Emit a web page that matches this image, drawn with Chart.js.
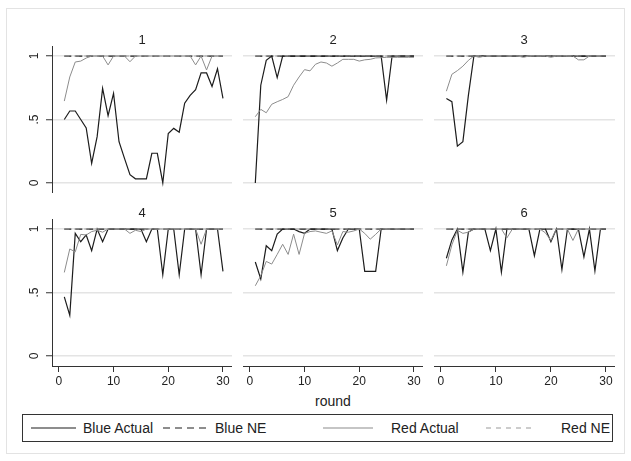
<!DOCTYPE html>
<html>
<head>
<meta charset="utf-8">
<script src="https://cdn.jsdelivr.net/npm/chart.js@4.4.1/dist/chart.umd.min.js"></script>
<style>
  html, body { margin: 0; padding: 0; background: #fff; }
  #wrap { position: relative; width: 631px; height: 461px; overflow: hidden;
          font-family: "Liberation Sans", Arial, Helvetica, sans-serif; color: #222; }
  #frame { position: absolute; left: 6px; top: 8px; width: 619px; height: 446px;
           border: 1px solid #e3e3e3; box-sizing: border-box; }
  canvas { position: absolute; }
  .ttl { position: absolute; width: 180px; text-align: center; font-size: 13px; line-height: 16px; }
  #xtitle { position: absolute; left: 52px; width: 562px; top: 392px; text-align: center;
            font-size: 14px; line-height: 18px; }
  #legend { position: absolute; left: 22px; top: 414px; width: 591px; height: 28px;
            border: 1px solid #333; box-sizing: border-box; }
  .lab { position: absolute; top: 5px; font-size: 14px; line-height: 16px; white-space: nowrap; }
</style>
</head>
<body>
<div id="wrap">
  <div id="frame"></div>
  <div id="xtitle">round</div>
  <div id="legend"></div>
</div>
<script>
// Rounds on the horizontal axis
const rounds = [1,2,3,4,5,6,7,8,9,10,11,12,13,14,15,16,17,18,19,20,21,22,23,24,25,26,27,28,29,30];

// Panel labels and axis ticks
const panelTitles = ['1','2','3','4','5','6'];
const xTicks = [0, 10, 20, 30];
const yTicks = [0, 0.5, 1];

// Equilibrium prediction (same for both players in every panel)
const blueNE = [1,1,1,1,1,1,1,1,1,1,1,1,1,1,1,1,1,1,1,1,1,1,1,1,1,1,1,1,1,1];
const redNE  = [1,1,1,1,1,1,1,1,1,1,1,1,1,1,1,1,1,1,1,1,1,1,1,1,1,1,1,1,1,1];

// Blue player, observed share by round
const blue1 = [0.50,0.567,0.567,0.50,0.433,0.155,0.365,0.745,0.53,0.706,0.325,0.194,0.065,0.033,0.033,0.033,0.234,0.234,0,0.39,0.43,0.40,0.628,0.69,0.735,0.867,0.867,0.76,0.90,0.666];
const blue2 = [0,0.77,0.966,1,0.83,1,1,1,1,1,1,1,1,1,1,1,1,1,1,1,1,1,1,1,0.653,1,1,1,1,1];
const blue3 = [0.666,0.64,0.29,0.326,0.69,1,1,1,1,1,1,1,1,1,1,1,1,1,1,1,1,1,1,1,1,1,1,1,1,1];
const blue4 = [0.465,0.32,0.966,0.90,0.953,0.83,1,0.90,1,1,1,1,1,1,1,0.90,1,1,0.64,1,1,0.64,1,1,1,0.64,1,1,1,0.666];
const blue5 = [0.74,0.606,0.868,0.83,0.96,1,1,1,0.98,0.966,1,1,1,1,1,0.83,0.93,1,1,1,0.667,0.667,0.667,1,1,1,1,1,1,1];
const blue6 = [0.77,0.914,1,0.66,0.976,1,1,1,0.83,1,0.66,1,1,1,1,1,0.79,1,1,0.90,1,0.68,1,1,1,0.78,1,0.67,1,1];

// Red player, observed share by round
const red1 = [0.645,0.835,0.953,0.96,0.984,1,1,1,0.93,1,1,1,0.955,1,1,1,1,1,1,1,1,1,1,1,0.93,1,0.89,1,1,1];
const red2 = [0.522,0.58,0.553,0.62,0.64,0.658,0.68,0.77,0.835,0.893,0.883,0.935,0.953,0.945,0.92,0.945,0.974,0.974,0.974,0.96,0.97,0.974,0.985,0.987,0.99,0.99,0.99,0.99,0.99,0.99];
const red3 = [0.723,0.856,0.885,0.92,0.966,1,0.99,1,1,1,1,1,1,1,0.99,1,1,1,1,0.99,1,1,1,1,0.97,0.97,1,1,1,1];
const red4 = [0.658,0.843,0.82,0.958,0.953,0.98,0.99,0.975,1,1,1,1,0.966,0.99,0.98,1,1,1,1,1,1,1,1,1,1,0.88,1,1,1,1];
const red5 = [0.553,0.632,0.745,0.724,0.80,0.88,0.80,0.96,0.80,0.966,0.98,0.985,0.975,0.966,0.985,0.875,0.98,0.975,0.985,1,0.966,0.92,0.958,1,1,1,1,1,1,1];
const red6 = [0.71,0.875,0.99,0.966,0.975,1,1,1,1,1,1,0.93,1,1,1,1,1,1,0.97,0.91,1,1,1,0.91,1,1,1,1,1,1];

const blueSeries = [blue1, blue2, blue3, blue4, blue5, blue6];
const redSeries  = [red1, red2, red3, red4, red5, red6];

// Legend entries
const legendLabels = ['Blue Actual', 'Blue NE', 'Red Actual', 'Red NE'];

const FONT = '"Liberation Sans", Arial, Helvetica, sans-serif';
const INK = '#1c1c1c';
const GREY = '#8c8c8c';
const COL_LEFT = [52, 243, 434];
const ROW_TOP = [46, 219];
const PW = 180, PH = 147, YAXW = 32, XAXH = 26;

const wrap = document.getElementById('wrap');
const toPoints = vals => rounds.map((x, k) => ({ x: x, y: vals[k] }));

function makePanel(i) {
  const c = i % 3, r = Math.floor(i / 3);
  const left = COL_LEFT[c] - (c === 0 ? YAXW : 0);
  const w = PW + (c === 0 ? YAXW : 0) + (c === 2 ? 1 : 0);
  const h = PH + (r === 1 ? XAXH : 0);
  const cv = document.createElement('canvas');
  cv.width = w; cv.height = h;
  cv.style.left = left + 'px'; cv.style.top = ROW_TOP[r] + 'px';
  cv.style.width = w + 'px'; cv.style.height = h + 'px';
  wrap.appendChild(cv);

  const t = document.createElement('div');
  t.className = 'ttl';
  t.textContent = panelTitles[i];
  t.style.left = COL_LEFT[c] + 'px';
  t.style.top = (ROW_TOP[r] - 14) + 'px';
  wrap.appendChild(t);

  new Chart(cv, {
    type: 'line',
    data: {
      datasets: [
        { label: legendLabels[0], data: toPoints(blueSeries[i]), borderColor: INK, borderWidth: 1.2, order: 3 },
        { label: legendLabels[1], data: toPoints(blueNE), borderColor: INK, borderWidth: 1.2, borderDash: [7, 4], order: 2 },
        { label: legendLabels[2], data: toPoints(redSeries[i]), borderColor: GREY, borderWidth: 1, order: 1 },
        { label: legendLabels[3], data: toPoints(redNE), borderColor: '#9a9a9a', borderWidth: 1, borderDash: [5, 5], order: 0 }
      ]
    },
    options: {
      responsive: false,
      animation: false,
      devicePixelRatio: 1,
      layout: { padding: 0 },
      elements: { point: { radius: 0 }, line: { tension: 0, fill: false } },
      plugins: { legend: { display: false }, tooltip: { enabled: false }, title: { display: false } },
      scales: {
        x: {
          type: 'linear', min: -1.25, max: 31.65,
          display: r === 1,
          afterBuildTicks: s => { s.ticks = xTicks.map(v => ({ value: v })); },
          afterFit: s => {
            s.height = r === 1 ? XAXH : 0;
            s.paddingLeft = 0; s.paddingRight = 0; s.paddingTop = 0; s.paddingBottom = 0;
          },
          border: { display: true, color: '#333', width: 1 },
          grid: { display: true, drawOnChartArea: false, drawTicks: true, tickLength: 6, tickColor: '#333', tickWidth: 1 },
          ticks: { autoSkip: false, maxRotation: 0, minRotation: 0, padding: 2, color: '#222', font: { family: FONT, size: 12 } }
        },
        y: {
          type: 'linear', min: -0.079, max: 1.079,
          afterBuildTicks: s => { s.ticks = yTicks.map(v => ({ value: v })); },
          afterFit: s => {
            s.width = c === 0 ? YAXW : 0;
            s.paddingLeft = 0; s.paddingRight = 0; s.paddingTop = 0; s.paddingBottom = 0;
          },
          border: { display: c === 0, color: '#333', width: 1 },
          grid: { color: '#e4e4e4', lineWidth: 1.5, drawTicks: c === 0, tickLength: 6, tickColor: '#333', tickWidth: 1 },
          ticks: {
            display: c === 0,
            callback: v => (v === 0.5 ? '.5' : String(v)),
            minRotation: 90, maxRotation: 90, crossAlign: 'center', padding: 6,
            color: '#222', font: { family: FONT, size: 12 }
          }
        }
      }
    }
  });
}

for (let i = 0; i < 6; i++) makePanel(i);

// Legend: one row of four keys inside a box
const legend = document.getElementById('legend');
const keySpec = [
  { x: 8,   w: 45, color: INK,  dash: null },
  { x: 140, w: 45, color: INK,  dash: '7,5' },
  { x: 300, w: 50, color: GREY, dash: null },
  { x: 463, w: 50, color: '#9a9a9a', dash: '5,5' }
];
const labelX = [60, 192, 368, 538];
keySpec.forEach((k, j) => {
  const svg = document.createElementNS('http://www.w3.org/2000/svg', 'svg');
  svg.setAttribute('width', k.w); svg.setAttribute('height', 4);
  svg.style.position = 'absolute'; svg.style.left = k.x + 'px'; svg.style.top = '11px';
  const ln = document.createElementNS('http://www.w3.org/2000/svg', 'line');
  ln.setAttribute('x1', 0); ln.setAttribute('x2', k.w); ln.setAttribute('y1', 2); ln.setAttribute('y2', 2);
  ln.setAttribute('stroke', k.color); ln.setAttribute('stroke-width', 1.2);
  if (k.dash) ln.setAttribute('stroke-dasharray', k.dash);
  svg.appendChild(ln);
  legend.appendChild(svg);
  const lb = document.createElement('div');
  lb.className = 'lab';
  lb.style.left = labelX[j] + 'px';
  lb.textContent = legendLabels[j];
  legend.appendChild(lb);
});
</script>
</body>
</html>
